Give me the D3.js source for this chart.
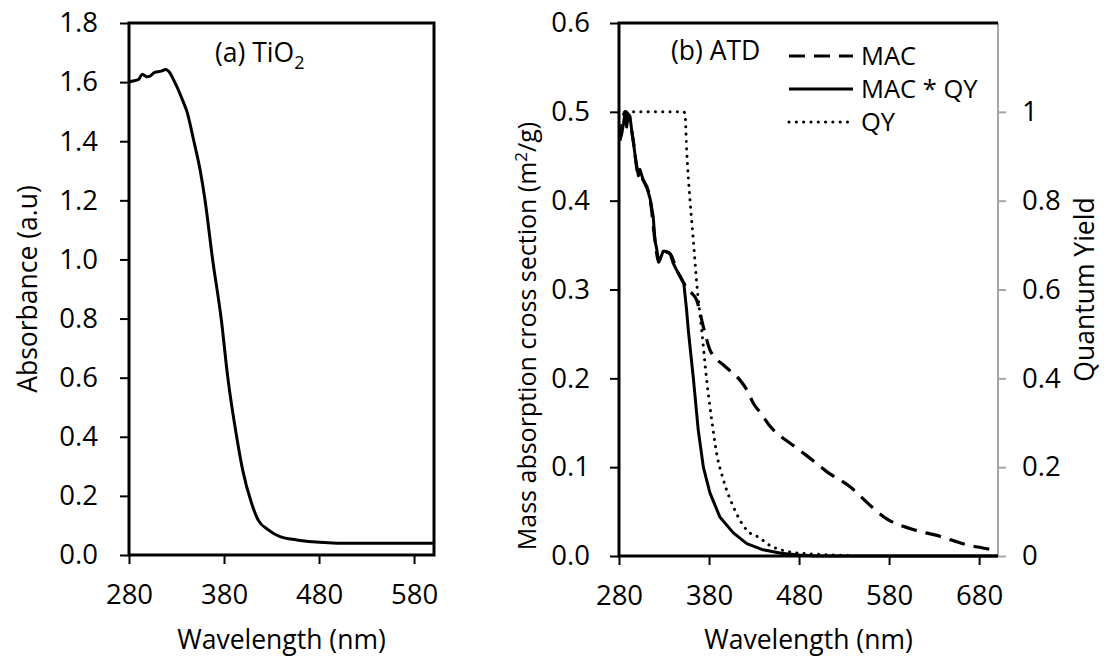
<!DOCTYPE html>
<html>
<head>
<meta charset="utf-8">
<script src="https://cdn.jsdelivr.net/npm/d3@7"></script>
<style>
  body { margin: 0; background: #fff; }
  svg { display: block; font-family: "Open Sans", sans-serif; }
  .tick text { fill: #000; }
</style>
</head>
<body>
<div id="chart"></div>
<script>
// (a) TiO2 absorbance spectrum
const tio2Wavelength = [280, 283, 290, 294, 298.6, 302, 307, 314, 318.6, 321.4, 328, 337, 341, 348, 355, 360, 368, 377, 384, 393.3, 399.6, 409, 416, 426.6, 439, 456.5, 485, 500, 540, 600];
const tio2Absorbance = [1.600, 1.603, 1.609, 1.627, 1.618, 1.620, 1.633, 1.637, 1.643, 1.638, 1.601, 1.534, 1.500, 1.404, 1.300, 1.201, 1.000, 0.800, 0.600, 0.400, 0.288, 0.175, 0.118, 0.085, 0.062, 0.051, 0.042, 0.040, 0.040, 0.040];

// (b) ATD: MAC * QY (solid)
const macQyWavelength = [281, 283, 285, 286.7, 288.5, 290.4, 292.2, 294, 296, 298.5, 301.5, 303.3, 307, 310.8, 314.4, 318, 320, 322, 324, 326, 329, 331, 335, 337, 340, 344, 348, 352, 355, 357, 362.6, 368, 373.7, 381, 392, 407, 422, 440, 460, 480, 500, 700];
const macQyValue = [0.468, 0.475, 0.487, 0.500, 0.483, 0.497, 0.495, 0.480, 0.466, 0.446, 0.428, 0.435, 0.423, 0.415, 0.403, 0.382, 0.355, 0.345, 0.331, 0.335, 0.343, 0.343, 0.342, 0.340, 0.330, 0.322, 0.315, 0.307, 0.278, 0.254, 0.200, 0.142, 0.100, 0.071, 0.044, 0.026, 0.014, 0.007, 0.003, 0.001, 0.000, 0.000];

// (b) ATD: MAC (dashed)
const macWavelength = [281, 286.7, 290.4, 296, 301.5, 307, 314.4, 320, 324, 329, 337, 344, 352, 356, 360.7, 366.3, 373.7, 381, 388, 396, 405, 414.4, 422, 429.2, 438, 447.8, 458, 470, 488.5, 510.7, 536.7, 559, 577, 603, 637, 663, 696, 700];
const macValue = [0.468, 0.500, 0.497, 0.466, 0.428, 0.423, 0.403, 0.355, 0.331, 0.343, 0.340, 0.322, 0.307, 0.300, 0.296, 0.288, 0.258, 0.232, 0.222, 0.215, 0.207, 0.198, 0.187, 0.172, 0.160, 0.146, 0.136, 0.127, 0.113, 0.095, 0.078, 0.057, 0.042, 0.031, 0.022, 0.0135, 0.0068, 0.006];

// (b) ATD: quantum yield (dotted, right axis)
const qyWavelength = [288, 300, 320, 340, 352, 353.3, 355.2, 358.9, 362.6, 366.3, 371.9, 377.4, 383, 388.5, 396, 407, 422, 437, 445, 455, 465, 477, 500, 520, 540];
const qyValue = [1, 1, 1, 1, 1, 0.995, 0.912, 0.80, 0.71, 0.615, 0.508, 0.396, 0.306, 0.231, 0.171, 0.111, 0.058, 0.040, 0.027, 0.017, 0.011, 0.007, 0.004, 0.002, 0.001];

const xTicksA = [280, 380, 480, 580];
const yTicksA = [0, 0.2, 0.4, 0.6, 0.8, 1.0, 1.2, 1.4, 1.6, 1.8];
const xTicksB = [280, 380, 480, 580, 680];
const yTicksB = [0, 0.1, 0.2, 0.3, 0.4, 0.5, 0.6];
const qyTicks = [0, 0.2, 0.4, 0.6, 0.8, 1];

const legendLabels = ['MAC', 'MAC * QY', 'QY'];

const width = 1108, height = 656;
const fontSize = 26.5;
const tickFont = 27.5;

const svg = d3.select('#chart').append('svg')
    .attr('width', width)
    .attr('height', height);

function styleAxis(g, color) {
    g.attr('font-family', '"Open Sans", sans-serif').attr('font-size', tickFont);
    g.select('.domain').remove();
    g.selectAll('.tick line').attr('stroke', color).attr('stroke-width', 2);
    g.selectAll('.tick text').style('font-size', tickFont + 'px');
}

// ---------- panel (a) ----------
const xA = d3.scaleLinear().domain([280, 601]).range([129, 434]);
const yA = d3.scaleLinear().domain([0, 1.8]).range([555, 23]);

svg.append('g')
    .attr('transform', `translate(0,${yA(0)})`)
    .call(d3.axisBottom(xA).tickValues(xTicksA).tickSize(9).tickSizeOuter(0).tickPadding(20).tickFormat(d3.format('d')))
    .call(g => styleAxis(g, '#000'));

svg.append('g')
    .attr('transform', `translate(${xA(280)},0)`)
    .call(d3.axisLeft(yA).tickValues(yTicksA).tickSize(9).tickSizeOuter(0).tickPadding(22).tickFormat(d3.format('.1f')))
    .call(g => styleAxis(g, '#000'));

svg.append('rect')
    .attr('x', xA(280)).attr('y', yA(1.8))
    .attr('width', xA(601) - xA(280)).attr('height', yA(0) - yA(1.8))
    .attr('fill', 'none').attr('stroke', '#000').attr('stroke-width', 3);

svg.append('path')
    .datum(d3.zip(tio2Wavelength, tio2Absorbance))
    .attr('fill', 'none')
    .attr('stroke', '#000')
    .attr('stroke-width', 3)
    .attr('stroke-linejoin', 'round')
    .attr('d', d3.line().x(d => xA(d[0])).y(d => yA(d[1])).curve(d3.curveMonotoneX));

const labelA = svg.append('text')
    .attr('x', 215).attr('y', 62)
    .style('font-size', fontSize + 'px');
labelA.append('tspan').text('(a) TiO');
labelA.append('tspan').attr('dy', 7).style('font-size', '18px').text('2');

svg.append('text')
    .attr('x', (xA(280) + xA(601)) / 2).attr('y', 649)
    .attr('text-anchor', 'middle')
    .style('font-size', fontSize + 'px')
    .text('Wavelength (nm)');

svg.append('text')
    .attr('transform', `translate(37,${(yA(0) + yA(1.8)) / 2}) rotate(-90)`)
    .attr('text-anchor', 'middle')
    .style('font-size', fontSize + 'px')
    .text('Absorbance (a.u)');

// ---------- panel (b) ----------
const xB = d3.scaleLinear().domain([280, 701]).range([619, 998]);
const yB = d3.scaleLinear().domain([0, 0.6]).range([556, 23]);
const yQ = d3.scaleLinear().domain([0, 1.2]).range([556, 23]);

svg.append('g')
    .attr('transform', `translate(0,${yB(0)})`)
    .call(d3.axisBottom(xB).tickValues(xTicksB).tickSize(9).tickSizeOuter(0).tickPadding(20).tickFormat(d3.format('d')))
    .call(g => styleAxis(g, '#000'));

svg.append('g')
    .attr('transform', `translate(${xB(280)},0)`)
    .call(d3.axisLeft(yB).tickValues(yTicksB).tickSize(9).tickSizeOuter(0).tickPadding(20).tickFormat(d3.format('.1f')))
    .call(g => styleAxis(g, '#000'));

svg.append('g')
    .attr('transform', `translate(${xB(701)},0)`)
    .call(d3.axisRight(yQ).tickValues(qyTicks).tickSize(8).tickSizeOuter(0).tickPadding(16).tickFormat(d3.format('~g')))
    .call(g => styleAxis(g, '#a6a6a6'));

// right (secondary) axis line, grey
svg.append('line')
    .attr('x1', xB(701)).attr('x2', xB(701))
    .attr('y1', yQ(1.2)).attr('y2', yQ(0))
    .attr('stroke', '#a6a6a6').attr('stroke-width', 2);

// left, bottom and top frame in black
svg.append('path')
    .attr('d', `M${xB(701)},${yB(0.6)}H${xB(280)}V${yB(0)}H${xB(701)}`)
    .attr('fill', 'none').attr('stroke', '#000').attr('stroke-width', 3);

const lineB = d3.line().x(d => xB(d[0])).y(d => yB(d[1])).curve(d3.curveMonotoneX);
const lineQ = d3.line().x(d => xB(d[0])).y(d => yQ(d[1])).curve(d3.curveMonotoneX);

svg.append('path')
    .datum(d3.zip(macWavelength, macValue))
    .attr('fill', 'none')
    .attr('stroke', '#000')
    .attr('stroke-width', 3.2)
    .attr('stroke-dasharray', '16,9')
    .attr('d', lineB);

svg.append('path')
    .datum(d3.zip(qyWavelength, qyValue))
    .attr('fill', 'none')
    .attr('stroke', '#000')
    .attr('stroke-width', 3)
    .attr('stroke-linecap', 'round')
    .attr('stroke-dasharray', '0.1,7.2')
    .attr('d', lineQ);

svg.append('path')
    .datum(d3.zip(macQyWavelength, macQyValue))
    .attr('fill', 'none')
    .attr('stroke', '#000')
    .attr('stroke-width', 3)
    .attr('stroke-linejoin', 'round')
    .attr('d', d3.line().x(d => xB(d[0])).y(d => yB(d[1])));

svg.append('text')
    .attr('x', 671).attr('y', 60)
    .style('font-size', fontSize + 'px')
    .text('(b) ATD');

// legend
const legendStyles = [
    { dash: '16,9', cap: 'butt', w: 3.2 },
    { dash: null, cap: 'butt', w: 3 },
    { dash: '0.1,7.2', cap: 'round', w: 3 }
];
const legendY = [56, 89, 122];
const legend = svg.append('g');
legendLabels.forEach((label, i) => {
    legend.append('line')
        .attr('x1', 789).attr('x2', 853)
        .attr('y1', legendY[i]).attr('y2', legendY[i])
        .attr('stroke', '#000')
        .attr('stroke-width', legendStyles[i].w)
        .attr('stroke-linecap', legendStyles[i].cap)
        .attr('stroke-dasharray', legendStyles[i].dash);
    legend.append('text')
        .attr('x', 861).attr('y', legendY[i] + 9)
        .style('font-size', '25.5px')
        .text(label);
});

svg.append('text')
    .attr('x', (xB(280) + xB(701)) / 2).attr('y', 649)
    .attr('text-anchor', 'middle')
    .style('font-size', fontSize + 'px')
    .text('Wavelength (nm)');

const massLabel = svg.append('text')
    .attr('transform', `translate(536,336) rotate(-90)`)
    .attr('text-anchor', 'middle')
    .style('font-size', '25px');
massLabel.append('tspan').text('Mass absorption cross section (m');
massLabel.append('tspan').attr('dy', -9).style('font-size', '17px').text('2');
massLabel.append('tspan').attr('dy', 9).text('/g)');

svg.append('text')
    .attr('transform', `translate(1094,${(yB(0) + yB(0.6)) / 2}) rotate(-90)`)
    .attr('text-anchor', 'middle')
    .style('font-size', fontSize + 'px')
    .text('Quantum Yield');
</script>
</body>
</html>
